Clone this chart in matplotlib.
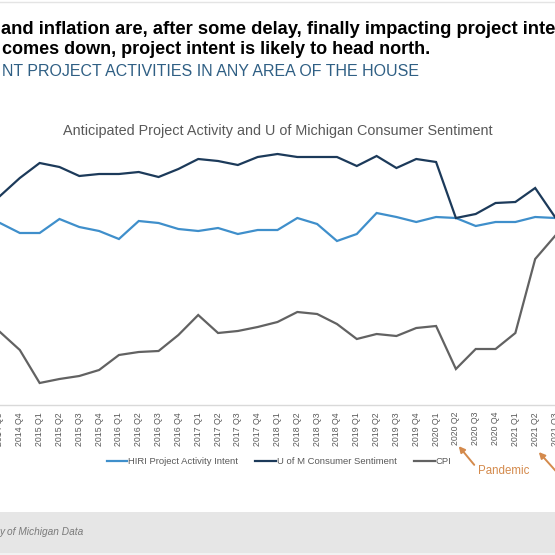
import matplotlib
matplotlib.use("Agg")
import matplotlib.pyplot as plt
from matplotlib.patches import Rectangle

plt.rcParams["font.family"] = ["Liberation Sans", "DejaVu Sans"]

# quarters visible in the slide crop
quarters = [
    "2014 Q3", "2014 Q4",
    "2015 Q1", "2015 Q2", "2015 Q3", "2015 Q4",
    "2016 Q1", "2016 Q2", "2016 Q3", "2016 Q4",
    "2017 Q1", "2017 Q2", "2017 Q3", "2017 Q4",
    "2018 Q1", "2018 Q2", "2018 Q3", "2018 Q4",
    "2019 Q1", "2019 Q2", "2019 Q3", "2019 Q4",
    "2020 Q1", "2020 Q2", "2020 Q3", "2020 Q4",
    "2021 Q1", "2021 Q2", "2021 Q3",
]

# series (no y axis shown, relative scale)
hiri = [182, 172, 172, 186, 178, 174, 166, 184, 182, 176, 174, 177, 171, 175,
        175, 187, 181, 164, 171, 192, 188, 183, 188, 187, 179, 183, 183, 188, 187]
umich = [209, 227, 242, 238, 229, 231, 231, 233, 228, 236, 246, 244, 240, 248,
         251, 248, 248, 248, 239, 249, 237, 246, 243, 187, 191, 202, 203, 217, 188]
cpi = [73, 55, 22, 26, 29, 35, 50, 53, 54, 70, 90, 72, 74, 78,
       83, 93, 91, 81, 66, 71, 69, 77, 79, 36, 56, 56, 72, 146, 169]

series_names = ["HIRI Project Activity Intent", "U of M Consumer Sentiment", "CPI"]
series_colors = ["#3f8fcb", "#1c3a5a", "#626262"]

W = H = 555
fig = plt.figure(figsize=(5.55, 5.55), dpi=100)


def fx(px):
    return px / W


def fy(py):
    return 1 - py / H


# ------------------------------------
# slide header text
# ------------------------------------
fig.text(fx(1), fy(29), "and inflation are, after some delay, finally impacting project intent",
         fontsize=13.2, fontweight="bold", color="black", va="center", ha="left")
fig.text(fx(2), fy(50), "comes down, project intent is likely to head north.",
         fontsize=13.0, fontweight="bold", color="black", va="center", ha="left")
fig.text(fx(2), fy(72), "NT PROJECT ACTIVITIES IN ANY AREA OF THE HOUSE",
         fontsize=11.5, color="#2f5f84", va="center", ha="left")
fig.add_artist(plt.Line2D([0, 1], [fy(2), fy(2)], color="#e4e4e4", lw=1))

# ------------------------------------
# chart
# ------------------------------------
ax = fig.add_axes([0, fy(405), 1, (405 - 140) / H])
x = list(range(len(quarters)))
for vals, name, col in zip([hiri, umich, cpi], series_names, series_colors):
    ax.plot(x, vals, color=col, lw=1.6, label=name, solid_joinstyle="miter")

ax.set_xlim(0, len(quarters) - 1)
ax.set_ylim(0, 265)
ax.set_xticks(x)
ax.set_xticklabels(quarters, rotation=90, fontsize=6.3, color="#5a5a5a")
ax.tick_params(axis="x", length=0, pad=5)
ax.set_yticks([])
for s in ["top", "left", "right"]:
    ax.spines[s].set_visible(False)
ax.spines["bottom"].set_color("#d9d9d9")
ax.spines["bottom"].set_linewidth(1)

fig.text(fx(278), fy(131), "Anticipated Project Activity and U of Michigan Consumer Sentiment",
         fontsize=10.4, color="#595959", ha="center", va="center")

leg = fig.legend(loc="center", bbox_to_anchor=(fx(279), fy(462)), ncol=3, frameon=False,
                 fontsize=6.8, handlelength=2.2, handletextpad=0.1, columnspacing=1.8,
                 labelcolor="#595959")

# pandemic annotations
orange = "#d48a4c"
fig.text(fx(478), fy(471), "Pandemic", fontsize=8.3, color=orange, ha="left", va="center")
for head, tail in [((457, 444), (476, 467)), ((537, 450), (562, 478))]:
    ax.annotate("", xy=(head[0], H - head[1]), xycoords="figure pixels",
                xytext=(tail[0], H - tail[1]), textcoords="figure pixels",
                arrowprops=dict(arrowstyle="-|>,head_length=0.35,head_width=0.18",
                                color=orange, lw=1.4), annotation_clip=False)

# ------------------------------------
# footer band
# ------------------------------------
fig.add_artist(Rectangle((0, fy(553)), 1, (553 - 512) / H, transform=fig.transFigure,
                         facecolor="#e6e6e6", edgecolor="none"))
fig.add_artist(Rectangle((0, 0), 1, fy(553), transform=fig.transFigure,
                         facecolor="#f2f2f2", edgecolor="none"))
fig.text(fx(0), fy(532), "y of Michigan Data", fontsize=7.3, style="italic",
         color="#7a7a7a", ha="left", va="center")

fig.savefig("out.png", dpi=100)
